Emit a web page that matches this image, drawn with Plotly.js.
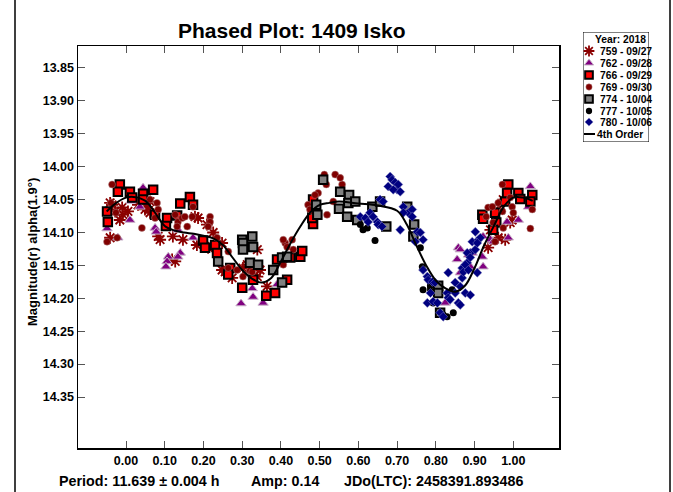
<!DOCTYPE html>
<html><head><meta charset="utf-8">
<script src="https://cdn.plot.ly/plotly-3.0.1.min.js"></script>
<style>html,body{margin:0;padding:0;background:#fff}#plot{width:673px;height:492px}</style>
</head><body><div id="plot"></div>
<script>
// ---- data (phase, magnitude) ----
const s759_x=[-0.036,-0.028,-0.010,-0.008,0.005,-0.016,-0.041,0.031,0.049,0.062,0.054,0.083,0.088,0.121,0.147,0.178,0.186,0.119,0.127,0.183,0.209,0.212,0.248,0.261,0.274,0.302,0.339,0.341,0.339,0.364,0.225,0.248,0.256,0.313,0.346,0.935,0.961,0.992,0.997,0.966,0.974,0.979,0.941,0.062,-0.041];
const s759_y=[14.058,14.068,14.062,14.073,14.068,14.081,14.108,14.058,14.065,14.070,14.061,14.106,14.111,14.106,14.111,14.076,14.078,14.141,14.144,14.119,14.088,14.123,14.116,14.157,14.169,14.154,14.126,14.152,14.167,14.182,14.100,14.157,14.160,14.149,14.157,14.123,14.108,14.085,14.081,14.058,14.050,14.111,14.096,14.053,14.055];

const s762_x=[0.044,0.013,0.036,0.010,-0.049,-0.021,0.075,0.078,0.109,0.106,0.103,0.140,0.134,0.173,0.134,0.297,0.326,0.328,0.354,0.390,0.858,0.855,0.863,0.889,0.884,0.824,0.922,0.941,0.984,1.013,0.987,1.044,1.039,0.948,0.894,0.920,0.922,0.863];
const s762_y=[14.032,14.052,14.061,14.081,14.094,14.108,14.093,14.099,14.137,14.144,14.152,14.131,14.137,14.108,14.096,14.208,14.185,14.198,14.207,14.179,14.123,14.141,14.161,14.152,14.134,14.207,14.106,14.111,14.084,14.081,14.108,14.030,14.061,14.114,14.131,14.137,14.152,14.126];

const s766_x=[-0.016,-0.021,0.010,0.016,0.044,0.044,0.070,-0.049,-0.047,0.165,0.140,0.173,0.075,0.106,0.103,0.132,0.199,0.204,0.230,0.235,0.269,0.264,0.300,0.328,0.362,0.385,0.390,0.416,0.424,0.450,0.455,0.483,0.481,0.483,0.481,0.920,0.922,0.953,0.956,0.948,0.979,0.987,0.984,1.013,1.018,1.049,1.044];
const s766_y=[14.027,14.038,14.038,14.047,14.041,14.050,14.035,14.068,14.084,14.046,14.056,14.058,14.073,14.078,14.090,14.074,14.112,14.123,14.119,14.131,14.154,14.164,14.184,14.172,14.196,14.192,14.141,14.172,14.138,14.137,14.128,14.087,14.078,14.050,14.062,14.073,14.079,14.070,14.085,14.096,14.053,14.027,14.040,14.040,14.049,14.043,14.053];

const s769_x=[-0.036,-0.039,-0.026,-0.049,-0.023,0.041,0.062,0.080,0.083,0.075,0.173,0.127,0.134,0.145,0.152,0.132,0.158,0.217,0.217,0.212,0.171,0.235,0.264,0.264,0.320,0.287,0.302,0.326,0.411,0.429,0.406,0.416,0.432,0.406,0.483,0.519,0.512,0.517,0.496,0.488,0.470,0.475,0.535,0.540,0.558,0.553,0.972,0.992,0.997,0.972,0.961,0.935,0.930,0.948,0.974,0.953,1.049,1.044,1.000,0.946];
const s769_y=[14.027,14.055,14.070,14.114,14.108,14.093,14.050,14.055,14.065,14.078,14.061,14.073,14.084,14.078,14.076,14.091,14.091,14.076,14.084,14.091,14.076,14.108,14.129,14.154,14.158,14.157,14.167,14.160,14.116,14.111,14.149,14.122,14.126,14.111,14.068,14.073,14.012,14.027,14.040,14.043,14.058,14.065,14.053,14.012,14.027,14.017,14.027,14.047,14.061,14.068,14.055,14.062,14.076,14.085,14.093,14.114,14.065,14.094,14.070,14.061];

const s774_x=[0.300,0.302,0.326,0.302,0.328,0.320,0.341,0.238,0.380,0.403,0.403,0.416,0.491,0.494,0.509,0.553,0.576,0.574,0.592,0.550,0.571,0.597,0.636,0.656,0.672,0.726,0.744,0.742,0.791,0.806,0.806,0.811];
const s774_y=[14.111,14.116,14.106,14.126,14.122,14.146,14.149,14.144,14.157,14.138,14.176,14.137,14.058,14.073,14.020,14.038,14.043,14.055,14.053,14.064,14.076,14.081,14.061,14.053,14.091,14.061,14.088,14.106,14.181,14.181,14.192,14.222];

const s777_x=[0.612,0.623,0.605,0.643,0.760,0.765,0.767,0.786,0.793,0.842,0.819,0.845,0.829];
const s777_y=[14.096,14.093,14.088,14.112,14.123,14.152,14.187,14.181,14.207,14.187,14.225,14.222,14.228];

const s780_x=[0.682,0.687,0.695,0.677,0.700,0.708,0.690,0.703,0.605,0.618,0.630,0.638,0.649,0.625,0.656,0.664,0.651,0.661,0.708,0.716,0.729,0.739,0.739,0.716,0.752,0.760,0.767,0.747,0.767,0.778,0.780,0.791,0.798,0.786,0.778,0.793,0.804,0.829,0.832,0.850,0.863,0.876,0.889,0.858,0.863,0.837,0.811,0.819,0.832,0.850,0.868,0.881,0.889,0.894,0.902,0.910,0.902,0.907,0.868,0.915,0.881,0.889,0.876,0.871,0.884,0.907];
const s780_y=[14.015,14.020,14.024,14.030,14.035,14.038,14.035,14.027,14.076,14.078,14.070,14.076,14.084,14.084,14.050,14.053,14.088,14.091,14.096,14.061,14.070,14.065,14.076,14.070,14.099,14.100,14.111,14.114,14.157,14.167,14.172,14.175,14.176,14.192,14.207,14.205,14.207,14.192,14.199,14.192,14.182,14.192,14.195,14.207,14.210,14.202,14.222,14.228,14.161,14.176,14.154,14.146,14.131,14.114,14.099,14.111,14.126,14.161,14.169,14.108,14.131,14.138,14.149,14.160,14.157,14.116];

const fit_x=[-0.05,-0.025,0,0.02,0.05,0.075,0.1,0.125,0.15,0.175,0.2,0.225,0.25,0.275,0.3,0.325,0.35,0.375,0.4,0.425,0.45,0.475,0.5,0.525,0.55,0.6,0.65,0.7,0.725,0.75,0.775,0.8,0.825,0.85,0.875,0.9,0.925,0.95,0.975,1.0,1.025,1.05];
const fit_y=[14.068,14.055,14.047,14.046,14.052,14.070,14.090,14.097,14.100,14.102,14.105,14.109,14.119,14.138,14.157,14.170,14.176,14.169,14.144,14.116,14.091,14.070,14.058,14.055,14.053,14.056,14.059,14.067,14.088,14.120,14.150,14.173,14.185,14.190,14.181,14.154,14.119,14.090,14.061,14.047,14.047,14.052];

const xTicks=[0,0.1,0.2,0.3,0.4,0.5,0.6,0.7,0.8,0.9,1.0];
const yTicks=[13.85,13.90,13.95,14.00,14.05,14.10,14.15,14.20,14.25,14.30,14.35];
const legendNames=['759 - 09/27','762 - 09/28','766 - 09/29','769 - 09/30','774 - 10/04','777 - 10/05','780 - 10/06'];
const legendTitle='Year: 2018';
const fitName='4th Order';

// ---- styles ----
const styles=[
 {symbol:'asterisk-open',size:10,color:'#8B0000',line:{color:'#8B0000',width:1.8}},
 {symbol:'triangle-up',size:9,color:'#800080',line:{color:'#c8b4c8',width:1}},
 {symbol:'square',size:8.5,color:'#FF0000',line:{color:'#000000',width:2}},
 {symbol:'circle',size:7,color:'#800000',line:{color:'#b08080',width:0.5}},
 {symbol:'square',size:8.5,color:'#808080',line:{color:'#000000',width:2}},
 {symbol:'circle',size:7,color:'#000000',line:{color:'#000000',width:0}},
 {symbol:'diamond',size:7,color:'#000080',line:{color:'#8080c0',width:0.5}}
];
const series=[[s759_x,s759_y],[s762_x,s762_y],[s766_x,s766_y],[s769_x,s769_y],[s774_x,s774_y],[s777_x,s777_y],[s780_x,s780_y]];

const FONT='Liberation Sans, Arial, sans-serif';
const traces=[];
series.forEach((s,i)=>{
  traces.push({type:'scatter',mode:'markers',x:s[0],y:s[1],name:legendNames[i],showlegend:false,hoverinfo:'skip',
    marker:{symbol:styles[i].symbol,size:styles[i].size,color:styles[i].color,line:styles[i].line}});
});
traces.push({type:'scatter',mode:'lines',x:fit_x,y:fit_y,name:fitName,showlegend:false,hoverinfo:'skip',
  line:{color:'#000',width:2,shape:'spline',smoothing:1}});

// custom legend on hidden axes x2/y2 (pixel-like units inside the legend box)
const rowY=[19,31,43,55,67,79,90,102];
const annotations=[];
series.forEach((s,i)=>{
  traces.push({type:'scatter',mode:'markers',x:[6],y:[rowY[i]],xaxis:'x2',yaxis:'y2',showlegend:false,hoverinfo:'skip',
    marker:{symbol:styles[i].symbol,size:styles[i].size*0.9,color:styles[i].color,line:styles[i].line}});
  annotations.push({xref:'x2',yref:'y2',x:15,y:rowY[i],text:'<b>'+legendNames[i]+'</b>',showarrow:false,xanchor:'left',yanchor:'middle',font:{family:FONT,size:10.3,color:'#000'}});
});
traces.push({type:'scatter',mode:'lines',x:[1,12],y:[rowY[7],rowY[7]],xaxis:'x2',yaxis:'y2',showlegend:false,hoverinfo:'skip',line:{color:'#000',width:2}});
annotations.push({xref:'x2',yref:'y2',x:12,y:rowY[7],text:'<b>'+fitName+'</b>',showarrow:false,xanchor:'left',yanchor:'middle',font:{family:FONT,size:10.3,color:'#000'}});
annotations.push({xref:'x2',yref:'y2',x:65,y:7,text:'<b>'+legendTitle+'</b>',showarrow:false,xanchor:'right',yanchor:'middle',font:{family:FONT,size:10.3,color:'#000'}});

// paper mapping helpers: paper x spans px 78..655, paper y spans px 448..30
const PX=(p)=>(p-78)/577, PY=(p)=>(448-p)/418;
annotations.push({xref:'paper',yref:'paper',x:PX(292),y:PY(30),text:'<b>Phased Plot: 1409 Isko</b>',showarrow:false,xanchor:'center',yanchor:'middle',font:{family:FONT,size:21,color:'#000'}});
annotations.push({xref:'paper',yref:'paper',x:PX(32),y:PY(252),text:'<b>Magnitude(r) alpha(1.9°)</b>',textangle:-90,showarrow:false,xanchor:'center',yanchor:'middle',font:{family:FONT,size:13,color:'#000'}});
annotations.push({xref:'paper',yref:'paper',x:PX(57),y:PY(481),text:'<b>Period: 11.639 ± 0.004 h</b>',showarrow:false,xanchor:'left',yanchor:'middle',font:{family:FONT,size:14.3,color:'#000'}});
annotations.push({xref:'paper',yref:'paper',x:PX(249),y:PY(481),text:'<b>Amp: 0.14</b>',showarrow:false,xanchor:'left',yanchor:'middle',font:{family:FONT,size:14.3,color:'#000'}});
annotations.push({xref:'paper',yref:'paper',x:PX(342),y:PY(481),text:'<b>JDo(LTC): 2458391.893486</b>',showarrow:false,xanchor:'left',yanchor:'middle',font:{family:FONT,size:14.3,color:'#000'}});

const shapes=[
  {type:'rect',xref:'x2',yref:'y2',x0:3,x1:69,y0:3,y1:113,fillcolor:'#000',line:{width:0},layer:'below'},
  {type:'rect',xref:'x2',yref:'y2',x0:0,x1:66,y0:0,y1:110,fillcolor:'#fff',line:{color:'#000',width:1},layer:'below'},
  {type:'rect',xref:'paper',yref:'paper',x0:PX(15),x1:PX(670),y0:PY(496),y1:PY(-4),line:{color:'#000',width:1.5},fillcolor:'rgba(0,0,0,0)'}
];

const tickfont={family:FONT,size:12.5,color:'#000',weight:700};
const layout={
  width:673,height:492,
  margin:{l:78,r:18,t:30,b:44,pad:0},
  paper_bgcolor:'#fff',plot_bgcolor:'#fff',
  showlegend:false,
  xaxis:{domain:[0,(559-78)/577],range:[-0.124,1.118],tickvals:xTicks,ticktext:xTicks.map(v=>v.toFixed(2)),
    ticks:'inside',ticklen:7,tickcolor:'#555',tickwidth:1,showline:true,linecolor:'#000',linewidth:1.5,mirror:'ticks',
    showgrid:false,zeroline:false,tickfont:tickfont,fixedrange:true},
  yaxis:{domain:[0,(448-46)/418],range:[14.4275,13.8166],tickvals:yTicks,ticktext:yTicks.map(v=>v.toFixed(2)),
    ticks:'inside',ticklen:7,tickcolor:'#555',tickwidth:1,showline:true,linecolor:'#000',linewidth:1.5,mirror:'ticks',
    showgrid:false,zeroline:false,tickfont:tickfont,fixedrange:true},
  xaxis2:{domain:[PX(583),PX(649)],range:[0,66],visible:false,fixedrange:true,anchor:'y2'},
  yaxis2:{domain:[PY(142),PY(32)],range:[110,0],visible:false,fixedrange:true,anchor:'x2'},
  annotations:annotations,shapes:shapes
};
Plotly.newPlot('plot',traces,layout,{staticPlot:true,displayModeBar:false});
</script></body></html>
